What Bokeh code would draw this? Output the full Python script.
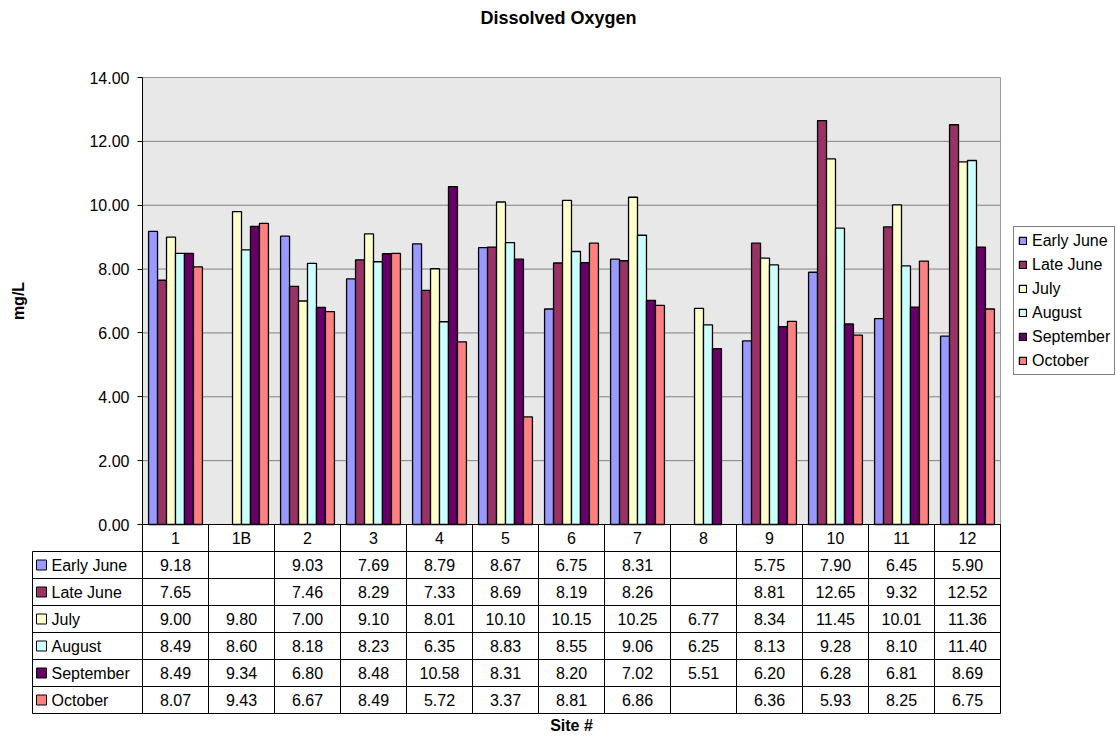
import math
from bokeh.plotting import figure
from bokeh.models import (Range1d, LinearAxis, FixedTicker, NumeralTickFormatter,
                          Legend, LegendItem)
from bokeh.core.properties import value
from bokeh.embed import file_html
from bokeh.resources import INLINE

# ---------------- data ----------------
sites = ["1", "1B", "2", "3", "4", "5", "6", "7", "8", "9", "10", "11", "12"]
months = ["Early June", "Late June", "July", "August", "September", "October"]
early_june = [9.18, None, 9.03, 7.69, 8.79, 8.67, 6.75, 8.31, None, 5.75, 7.90, 6.45, 5.90]
late_june = [7.65, None, 7.46, 8.29, 7.33, 8.69, 8.19, 8.26, None, 8.81, 12.65, 9.32, 12.52]
july = [9.00, 9.80, 7.00, 9.10, 8.01, 10.10, 10.15, 10.25, 6.77, 8.34, 11.45, 10.01, 11.36]
august = [8.49, 8.60, 8.18, 8.23, 6.35, 8.83, 8.55, 9.06, 6.25, 8.13, 9.28, 8.10, 11.40]
september = [8.49, 9.34, 6.80, 8.48, 10.58, 8.31, 8.20, 7.02, 5.51, 6.20, 6.28, 6.81, 8.69]
october = [8.07, 9.43, 6.67, 8.49, 5.72, 3.37, 8.81, 6.86, None, 6.36, 5.93, 8.25, 6.75]
y_ticks = [0, 2, 4, 6, 8, 10, 12, 14]

series = [early_june, late_june, july, august, september, october]
colors = ["#9999FF", "#993366", "#FFFFCC", "#CCFFFF", "#660066", "#FF8080"]

# ---------------- layout constants (pixels) ----------------
W, H = 1117, 736
PLOT_TOP = 77         # top edge of the plot area
PLOT_LEFT = 142       # left edge of the plot area
COL_W = 66            # width of one site column
HEAD_W = 110          # width of the row-header column of the table
PLOT_H = 447          # height of the 0..14 plot area
ROW_H = 27            # table row height
FONT_NAME = "Liberation Sans"
FONT = value(FONT_NAME)
FS = "16px"

n = len(sites)
ymax = y_ticks[-1]
px_per_unit = PLOT_H / ymax
below = H - PLOT_TOP - PLOT_H
right_px = W - PLOT_LEFT - n * COL_W

p = figure(width=W, height=H,
           x_range=Range1d(-PLOT_LEFT / COL_W, n + right_px / COL_W),
           y_range=Range1d(-below / px_per_unit, ymax + PLOT_TOP / px_per_unit),
           x_axis_type=None, y_axis_type=None,
           toolbar_location=None, output_backend="svg",
           min_border_left=0, min_border_right=0,
           min_border_top=0, min_border_bottom=0)
p.extra_y_ranges = {"tbl": Range1d(start=below / ROW_H, end=-(PLOT_H + PLOT_TOP) / ROW_H)}
p.outline_line_color = None
p.background_fill_color = "white"
p.border_fill_color = "white"

# chart title
p.text(x=[(558 - PLOT_LEFT) / COL_W], y=[ymax + (PLOT_TOP - 17) / px_per_unit],
       text=["Dissolved Oxygen"], text_align="center", text_baseline="middle",
       text_font=FONT, text_font_size="18px", text_font_style="bold",
       text_color="black")

# plot background and gridlines
p.quad(left=[0], right=[n], bottom=[0], top=[ymax], fill_color="#E8E8E8",
       line_color="#9A9A9A", line_width=1)
grid_y = [t for t in y_ticks if 0 < t < ymax]
p.segment(x0=[0] * len(grid_y), x1=[n] * len(grid_y), y0=grid_y, y1=grid_y,
          line_color="#808080", line_width=1)

# bars
bw = 0.136
legend_items = []
for j, (m, vals, c) in enumerate(zip(months, series, colors)):
    xs, tops = [], []
    for i, v in enumerate(vals):
        if v is not None:
            xs.append(i + 0.5 + (j - 2.5) * bw)
            tops.append(v)
    r = p.vbar(x=xs, top=tops, width=bw, bottom=0, fill_color=c,
               line_color="black", line_width=1.3)
    legend_items.append(LegendItem(label=m, renderers=[r]))

# y axis placed at x = 0 (start of plot area)
yaxis = LinearAxis(fixed_location=0, bounds=(0, ymax),
                   ticker=FixedTicker(ticks=y_ticks),
                   formatter=NumeralTickFormatter(format="0.00"),
                   major_label_text_font=FONT_NAME, major_label_text_font_size=FS,
                   major_label_text_color="black", major_label_standoff=8,
                   major_tick_out=5, major_tick_in=0, minor_tick_out=0, minor_tick_in=0,
                   axis_line_color="black", major_tick_line_color="black")
p.add_layout(yaxis, "left")

# y axis title
p.text(x=[-(PLOT_LEFT - 18) / COL_W], y=[ymax / 2], text=["mg/L"], angle=math.pi / 2,
       text_align="center", text_baseline="middle", text_font=FONT,
       text_font_size=FS, text_font_style="bold", text_color="black")

# ---------------- data table ----------------
n_rows = len(months) + 1
x_left = -HEAD_W / COL_W
# horizontal lines
hx0 = [0] + [x_left] * n_rows
hx1 = [n] * (n_rows + 1)
hy = list(range(n_rows + 1))
p.segment(x0=hx0, x1=hx1, y0=hy, y1=hy, line_color="black", line_width=1,
          y_range_name="tbl")
# vertical lines
vx = [x_left] + list(range(n + 1))
vy0 = [1] + [0] * (n + 1)
vy1 = [n_rows] * (n + 2)
p.segment(x0=vx, x1=vx, y0=vy0, y1=vy1, line_color="black", line_width=1,
          y_range_name="tbl")

# header row: site names
p.text(x=[i + 0.5 for i in range(n)], y=[0.5] * n, text=sites,
       text_align="center", text_baseline="middle", text_font=FONT,
       text_font_size=FS, text_color="black", y_range_name="tbl")

# row headers with colour keys
row_y = [j + 1.5 for j in range(len(months))]
p.scatter(x=[x_left + 9 / COL_W] * len(months), y=row_y, marker="square", size=10,
          fill_color=colors, line_color="black", line_width=1, y_range_name="tbl")
p.text(x=[x_left + 19 / COL_W] * len(months), y=row_y, text=months,
       text_align="left", text_baseline="middle", text_font=FONT,
       text_font_size=FS, text_color="black", y_range_name="tbl")

# values
cx, cy, ct = [], [], []
for j, vals in enumerate(series):
    for i, v in enumerate(vals):
        if v is not None:
            cx.append(i + 0.5)
            cy.append(j + 1.5)
            ct.append(f"{v:.2f}")
p.text(x=cx, y=cy, text=ct, text_align="center", text_baseline="middle",
       text_font=FONT, text_font_size=FS, text_color="black", y_range_name="tbl")

# x axis title
p.text(x=[n / 2], y=[n_rows + 0.45], text=["Site #"], text_align="center",
       text_baseline="middle", text_font=FONT, text_font_size=FS,
       text_font_style="bold", text_color="black", y_range_name="tbl")

# legend
legend = Legend(items=legend_items, location=(1013, 361),
                label_text_font=FONT_NAME, label_text_font_size=FS,
                label_text_color="black", glyph_width=9, glyph_height=9,
                label_standoff=5, label_height=19, spacing=5, padding=4,
                margin=0, border_line_color="black", border_line_width=1,
                background_fill_color="white", background_fill_alpha=1)
p.add_layout(legend)

open("out.html", "w").write(file_html(p, INLINE))
